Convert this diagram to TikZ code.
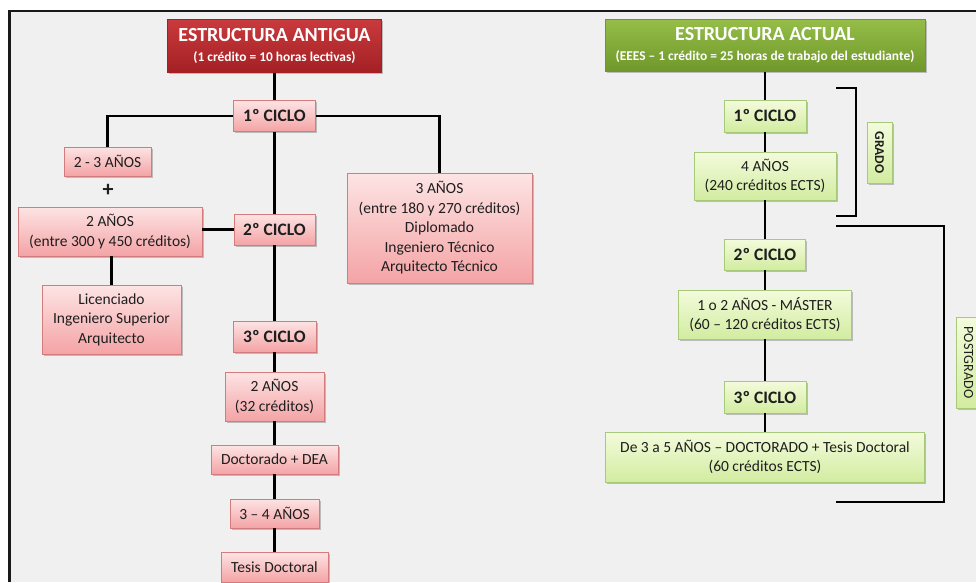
\documentclass[tikz,border=0pt]{standalone}
\usepackage{fontspec}
\setmainfont{Carlito}
\usetikzlibrary{shadows}

\definecolor{bg}{HTML}{F0F0F0}
\definecolor{txt}{HTML}{1E1E1E}
\definecolor{pinktop}{HTML}{FDE4E4}
\definecolor{pinkbot}{HTML}{F4A3A5}
\definecolor{pinkline}{HTML}{D37B7D}
\definecolor{greentop}{HTML}{F3FBDC}
\definecolor{greenbot}{HTML}{D2ECA0}
\definecolor{greenline}{HTML}{A6C97A}
\definecolor{redtop}{HTML}{C93A3D}
\definecolor{redbot}{HTML}{A32024}
\definecolor{gtop}{HTML}{95BD48}
\definecolor{gbot}{HTML}{6F982B}

\begin{document}
\begin{tikzpicture}[x=1pt,y=-1pt,
  every node/.style={inner sep=0pt, align=center, text=txt},
  link/.style={line width=2.4pt, draw=black},
  soft/.style={drop shadow={shadow xshift=1.5pt, shadow yshift=-1.5pt, fill=black, opacity=0.22}},
  pinkbox/.style={soft, draw=pinkline, line width=0.8pt, top color=pinktop, bottom color=pinkbot,
    font=\fontsize{15.5}{19.5}\selectfont},
  greenbox/.style={soft, draw=greenline, line width=0.8pt, top color=greentop, bottom color=greenbot,
    font=\fontsize{15.5}{19.5}\selectfont},
  cyclo/.style={font=\fontsize{17.5}{20}\selectfont\bfseries},
  redhead/.style={soft, draw=redbot, line width=0.6pt, top color=redtop, bottom color=redbot, text=white},
  greenhead/.style={soft, draw=gbot, line width=0.6pt, top color=gtop, bottom color=gbot, text=white},
  headtext/.style={font=\fontsize{20}{22}\selectfont\bfseries},
  sz/.style 2 args={minimum width=#1pt, minimum height=#2pt},
]
\useasboundingbox (0,0) rectangle (976,582);

% background and frame
\fill[white] (0,0) rectangle (976,582);
\fill[bg] (9.5,11) rectangle (976,582);
\draw[line width=2.5pt, draw=black!90] (9.5,582) -- (9.5,11) -- (976,11);

% ---------------- old structure ----------------
\node[redhead, headtext, sz={214}{53}] (antigua) at (274.5,46)
  {ESTRUCTURA ANTIGUA\\[-2pt]
   {\fontsize{13.4}{14}\selectfont (1 crédito = 10 horas lectivas)}};

\node[pinkbox, cyclo, sz={82}{31}] (a1) at (274.5,116) {1º CICLO};
\node[pinkbox, sz={87}{29}] (a23) at (107.5,161.5) {2 - 3 AÑOS};
\node[font=\fontsize{22}{22}\selectfont\bfseries] (plus) at (108,190) {+};
\node[pinkbox, sz={184}{49}] (a2) at (110,231.5) {2 AÑOS\\(entre 300 y 450 créditos)};
\node[pinkbox, cyclo, sz={81}{31}] (a2c) at (274.5,229.5) {2º CICLO};
\node[pinkbox, sz={139}{69}] (lic) at (111.5,319.5) {Licenciado\\Ingeniero Superior\\Arquitecto};
\node[pinkbox, sz={185}{110}] (a3) at (439.5,228)
  {3 AÑOS\\(entre 180 y 270 créditos)\\Diplomado\\Ingeniero Técnico\\Arquitecto Técnico};
\node[pinkbox, cyclo, sz={83}{31}] (a3c) at (274.5,336.5) {3º CICLO};
\node[pinkbox, sz={99}{49}] (a2y) at (274.5,396.5) {2 AÑOS\\(32 créditos)};
\node[pinkbox, sz={127}{29}] (doc) at (274.5,459.5) {Doctorado + DEA};
\node[pinkbox, sz={89}{29}] (a34) at (274.5,513.5) {3 – 4 AÑOS};
\node[pinkbox, sz={107}{30}] (tesis) at (274.5,567) {Tesis Doctoral};

\draw[link] (antigua.south) -- (a1.north);
\draw[link] (a23.north) |- (a1.west);
\draw[link] (a3.north) |- (a1.east);
\draw[link] (a1.south) -- (a2c.north);
\draw[link] (a2c.west) -- (a2c.west -| a2.east);
\draw[link] (lic.north) -- (lic.north |- a2.south);
\draw[link] (a2c.south) -- (a3c.north);
\draw[link] (a3c.south) -- (a2y.north);
\draw[link] (a2y.south) -- (doc.north);
\draw[link] (doc.south) -- (a34.north);
\draw[link] (a34.south) -- (tesis.north);

% ---------------- current structure ----------------
\node[greenhead, headtext, sz={320}{52}] (actual) at (765,45.5)
  {ESTRUCTURA ACTUAL\\[-2pt]
   {\fontsize{13.4}{14}\selectfont (EEES – 1 crédito = 25 horas de trabajo del estudiante)}};

\node[greenbox, cyclo, sz={82}{32}] (b1) at (765,116) {1º CICLO};
\node[greenbox, sz={142}{48}] (b4) at (765,176) {4 AÑOS\\(240 créditos ECTS)};
\node[greenbox, cyclo, sz={81}{31}] (b2c) at (765,254.5) {2º CICLO};
\node[greenbox, sz={173}{49}] (bm) at (765,314.5) {1 o 2 AÑOS - MÁSTER\\(60 – 120 créditos ECTS)};
\node[greenbox, cyclo, sz={82}{32}] (b3c) at (765,397) {3º CICLO};
\node[greenbox, sz={319}{50}] (bd) at (765,457)
  {De 3 a 5 AÑOS – DOCTORADO + Tesis Doctoral\\(60 créditos ECTS)};

\draw[link] (actual.south) -- (b1.north);
\draw[link] (b1.south) -- (b4.north);
\draw[link] (b4.south) -- (b2c.north);
\draw[link] (b2c.south) -- (bm.north);
\draw[link] (bm.south) -- (b3c.north);
\draw[link] (b3c.south) -- (bd.north);

% brackets
\coordinate (g1) at (836,88);
\coordinate (g2) at (856,216);
\coordinate (p1) at (836,226);
\coordinate (p2) at (944,502);
\draw[link] (g1) -| (g2) -- (g2 -| g1);
\draw[link] (p1) -| (p2) -- (p2 -| p1);

\node[greenbox, rotate=-90, sz={61}{25}, font=\fontsize{13.5}{15}\selectfont\bfseries] (grado) at (879.5,152.5) {GRADO};
\node[greenbox, rotate=-90, sz={91}{25}, font=\fontsize{14}{15}\selectfont] (postgrado) at (968.5,362.5) {POSTGRADO};
\end{tikzpicture}
\end{document}
